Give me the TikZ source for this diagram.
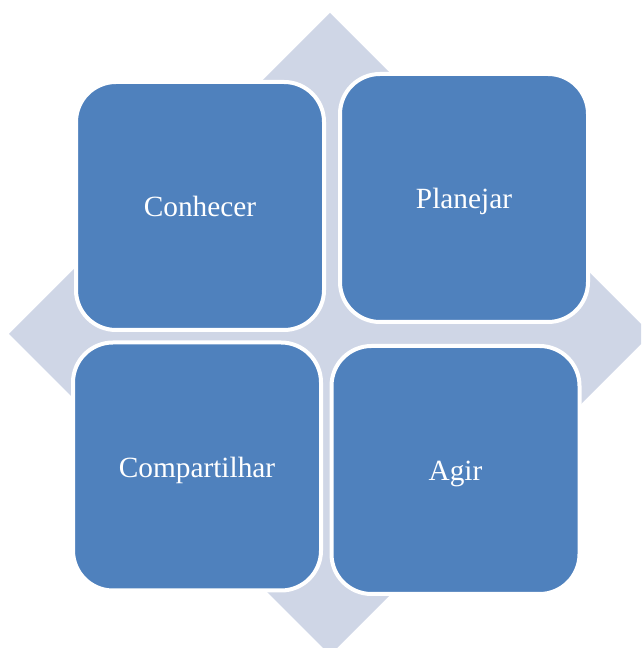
\documentclass[tikz,border=0pt]{standalone}
\usepackage{fontspec}
\setmainfont{Liberation Serif}
\usepackage{tikz}
\definecolor{Tile}{HTML}{4F81BD}
\definecolor{Back}{HTML}{CFD6E6}

\begin{document}
\begin{tikzpicture}[x=0.75pt,y=0.75pt,
    tile/.style={rectangle,fill=Tile,draw=white,line width=3pt,
      minimum size=186pt,rounded corners=30pt,text=white,
      text height=20pt,text depth=3.5pt,
      font=\fontsize{22}{26}\selectfont}]
  \useasboundingbox (0,0) rectangle (641,648);
  % diamond behind the four tiles
  \begin{scope}
    \clip (0,0) rectangle (641,648);
    \fill[Back] (330,635) -- (9,314) -- (330,-7) -- (651,314) -- cycle;
  \end{scope}
  \foreach \name/\x/\y/\lab in {
    conhecer/200/442/Conhecer,
    planejar/464/450/Planejar,
    compartilhar/197/181.5/Compartilhar,
    agir/455.5/178/Agir} {
    \node[tile] (\name) at (\x,\y) {\lab};
  }
\end{tikzpicture}
\end{document}
